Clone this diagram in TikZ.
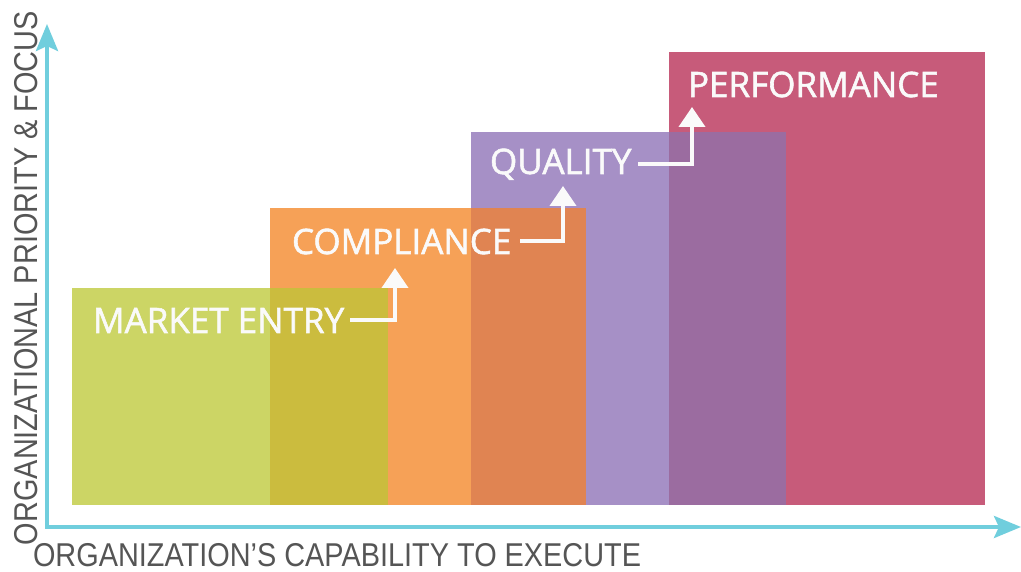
\documentclass[tikz,border=0pt]{standalone}
\usepackage{fontspec}
\usetikzlibrary{arrows.meta}
\newfontfamily\stepfont[FakeBold=1.6]{Open Sans}
\newfontfamily\axisfont[FakeStretch=0.875]{Liberation Sans}
\definecolor{cgreen}{HTML}{CCD565}
\definecolor{colive}{HTML}{CBBC3E}
\definecolor{corange}{HTML}{F6A157}
\definecolor{cburnt}{HTML}{E08452}
\definecolor{cpurple}{HTML}{A690C6}
\definecolor{cplum}{HTML}{9B6CA0}
\definecolor{cpink}{HTML}{C75B7A}
\definecolor{caxis}{HTML}{70CEDD}
\definecolor{ctext}{HTML}{555555}
\tikzset{
  stepbox/.style={draw=none, inner sep=0pt, outer sep=0pt, anchor=north west},
  steplabel/.style={inner sep=0pt, outer sep=0pt, anchor=base west, text=white!96!gray,
    font=\stepfont\fontsize{35}{35}\selectfont},
  steparrow/.style={draw=white!96!gray, line width=4pt, line join=miter,
    -{Triangle[width=26pt,length=20pt]}},
  axisline/.style={draw=caxis, line width=4pt, line join=miter,
    {Stealth[width=22pt,length=27pt,inset=5pt]}-{Stealth[width=22pt,length=27pt,inset=5pt]}},
  axislabel/.style={inner sep=0pt, outer sep=0pt, text=ctext,
    font=\axisfont\fontsize{33}{33}\selectfont}
}
\begin{document}
\begin{tikzpicture}[x=1pt,y=-1pt]
\useasboundingbox (0,0) rectangle (1021,572);
% boxes
\node[stepbox, fill=cgreen, minimum width=316pt, minimum height=217pt] (mkt) at (72,288) {};
\node[stepbox, fill=corange, minimum width=316pt, minimum height=297pt] (cmp) at (270,208) {};
\fill[colive] (270,288) rectangle (388,505);
\node[stepbox, fill=cpurple, minimum width=315pt, minimum height=373pt] (qua) at (471,132) {};
\fill[cburnt] (471,208) rectangle (586,505);
\node[stepbox, fill=cpink, minimum width=316pt, minimum height=453pt] (prf) at (669,52) {};
\fill[cplum] (669,132) rectangle (786,505);
% labels
\node[steplabel] (lmkt) at (93,333) {MARKET ENTRY};
\node[steplabel] (lcmp) at (292,254) {COMPLIANCE};
\node[steplabel] (lqua) at (490,174) {QUALITY};
\node[steplabel] (lprf) at (688,97) {PERFORMANCE};
% step arrows
\coordinate (t1) at (395,268);
\coordinate (t2) at (563,186);
\coordinate (t3) at (692,107);
\draw[steparrow] ([xshift=6pt]lmkt.east) -| (t1);
\draw[steparrow] ([xshift=9pt]lcmp.east) -| (t2);
\draw[steparrow] ([xshift=7pt]lqua.east) -| (t3);
% axes
\coordinate (ytip) at (47,24);
\coordinate (origin) at (47,527);
\coordinate (xtip) at (1021,527);
\draw[axisline] (ytip) -- (origin) -- (xtip);
\node[axislabel, anchor=base west] (xlab) at (33,566) {ORGANIZATION’S CAPABILITY TO EXECUTE};
\node[axislabel, anchor=base west, rotate=90] (ylab) at (37,545) {ORGANIZATIONAL PRIORITY \& FOCUS};
\end{tikzpicture}
\end{document}
